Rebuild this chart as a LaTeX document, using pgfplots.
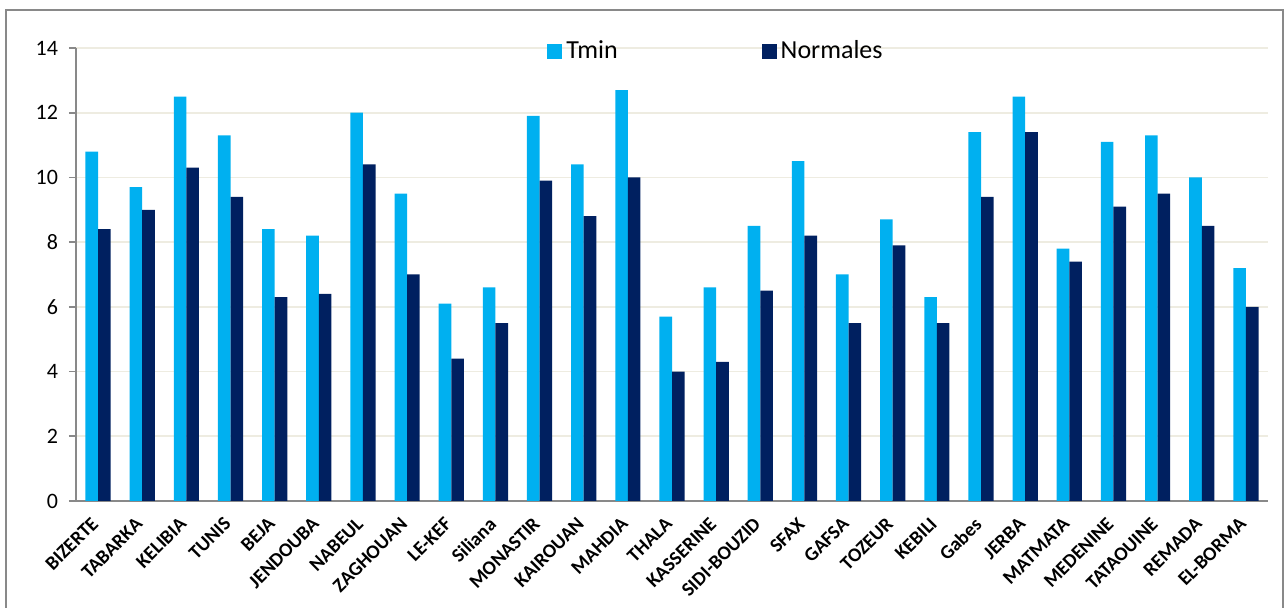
\documentclass[border=0pt]{standalone}
\usepackage{fontspec}
\setmainfont{Carlito}
\usepackage{pgfplots}
\usepackage{pgfplotstable}
\pgfplotsset{compat=1.18}

\definecolor{tmin}{HTML}{00B0F0}
\definecolor{normales}{HTML}{002060}
\definecolor{gridc}{HTML}{EEECE1}
\definecolor{axisc}{HTML}{898989}

% station, Tmin, normale
\pgfplotstableread{
idx tmin norm
0  10.8 8.4
1  9.7  9.0
2  12.5 10.3
3  11.3 9.4
4  8.4  6.3
5  8.2  6.4
6  12.0 10.4
7  9.5  7.0
8  6.1  4.4
9  6.6  5.5
10 11.9 9.9
11 10.4 8.8
12 12.7 10.0
13 5.7  4.0
14 6.6  4.3
15 8.5  6.5
16 10.5 8.2
17 7.0  5.5
18 8.7  7.9
19 6.3  5.5
20 11.4 9.4
21 12.5 11.4
22 7.8  7.4
23 11.1 9.1
24 11.3 9.5
25 10.0 8.5
26 7.2  6.0
}\data

\begin{document}
\begin{tikzpicture}
\useasboundingbox (-38pt,-53.5pt) rectangle (604.5pt,250.5pt);
\draw[axisc, line width=0.8pt] (-35pt,-60pt) -- (-35pt,245.5pt) -- (603.5pt,245.5pt) -- (603.5pt,-60pt);
\begin{axis}[
    scale only axis,
    width=596pt, height=226.5pt,
    xmin=-0.5, xmax=26.5,
    ymin=0, ymax=14,
    ytick={0,2,...,14},
    ybar=0pt, bar width=6.3pt,
    axis x line*=bottom, axis y line*=left,
    axis line style={axisc, line width=0.8pt, -},
    ymajorgrids,
    grid style={gridc, line width=0.8pt},
    tick align=outside,
    major tick length=3.5pt,
    ytick style={axisc, line width=0.8pt},
    xtick style={draw=none},
    xtick=data,
    xticklabels={BIZERTE,TABARKA,KELIBIA,TUNIS,BEJA,JENDOUBA,NABEUL,ZAGHOUAN,LE-KEF,Siliana,MONASTIR,KAIROUAN,MAHDIA,THALA,KASSERINE,SIDI-BOUZID,SFAX,GAFSA,TOZEUR,KEBILI,Gabes,JERBA,MATMATA,MEDENINE,TATAOUINE,REMADA,EL-BORMA},
    xticklabel style={font=\fontsize{9.8}{11}\selectfont\bfseries, rotate=45, anchor=north east, inner sep=0pt, xshift=-5.5pt, yshift=0pt},
    yticklabel style={font=\fontsize{11}{13}\selectfont, xshift=-2pt},
    /pgf/number format/assume math mode=true,
    legend columns=2,
    legend style={draw=none, fill=none, at={(axis description cs:0.39,0.993)}, anchor=west,
        font=\fontsize{13}{15}\selectfont,
        /tikz/every even column/.append style={column sep=70pt}},
    legend image code/.code={\fill[#1] (0pt,-3.75pt) rectangle (7.5pt,3.75pt);},
]
\addplot[fill=tmin, draw=none] table[x=idx, y=tmin] {\data};
\addplot[fill=normales, draw=none] table[x=idx, y=norm] {\data};
\legend{Tmin, Normales}
\end{axis}
\end{tikzpicture}
\end{document}
